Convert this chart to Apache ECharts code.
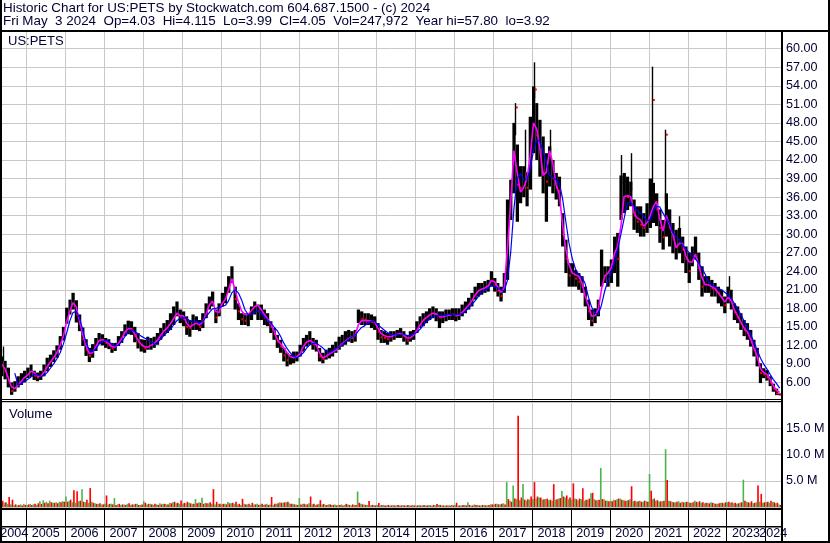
<!DOCTYPE html>
<html><head><meta charset="utf-8">
<script src="https://cdn.jsdelivr.net/npm/echarts@6/dist/echarts.min.js"></script>
<style>html,body{margin:0;padding:0;background:#fff}#c{width:830px;height:543px}</style>
</head><body><div id="c"></div>
<script>
// ---- data (monthly, May 2004 .. May 2024) ----
const firstYear = 2004, firstMonthIdx = 4; // May 2004
const axisStart = '2004-05-18', axisEnd = '2024-05-27';
const high = [
 10.2, 9.5, 8.4, 6.0, 6.2, 7.0, 7.5, 7.9,
 8.4, 8.9, 7.9, 7.6, 7.9, 8.9, 10.0, 10.5, 11.2, 12.0, 13.5, 15.0,
 18.1, 19.4, 20.5, 19.3, 17.0, 14.9, 13.0, 11.6, 12.2, 13.2, 14.0, 13.8,
 13.2, 13.0, 12.4, 12.4, 13.5, 14.3, 15.4, 16.0, 15.9, 15.0, 14.0, 13.0,
 12.9, 13.4, 13.2, 13.4, 14.0, 14.8, 15.6, 16.1, 17.2, 18.3, 19.1, 17.8,
 17.5, 16.7, 16.1, 17.0, 16.7, 16.1, 17.2, 18.8, 19.9, 20.7, 17.8, 18.8,
 20.5, 21.5, 23.2, 24.8, 21.5, 18.8, 17.2, 17.2, 17.2, 18.3, 19.1, 18.6,
 18.6, 17.8, 17.2, 15.9, 14.8, 13.7, 12.9, 11.6, 10.8, 10.5, 11.0, 11.0,
 12.1, 13.2, 13.7, 14.3, 13.2, 12.9, 11.6, 10.8, 11.3, 11.6, 12.1, 12.6,
 13.4, 13.7, 14.3, 14.5, 14.3, 14.5, 17.8, 17.5, 17.2, 17.2, 17.0, 16.7,
 15.6, 14.5, 14.3, 14.0, 14.3, 14.3, 14.5, 14.8, 14.3, 13.7, 14.3, 14.5,
 15.9, 16.7, 17.2, 17.5, 18.0, 18.3, 18.0, 17.5, 17.5, 17.8, 17.8, 18.0,
 18.0, 18.0, 18.6, 19.1, 19.7, 20.5, 21.5, 22.1, 22.1, 22.4, 22.6, 24.0,
 22.9, 22.1, 21.5, 23.7, 35.6, 38.8, 48.0, 44.5, 41.0, 41.0, 40.0, 49.0,
 53.9, 51.2, 48.5, 45.8, 43.1, 44.2, 42.0, 39.9, 39.3, 33.4, 29.1, 25.3,
 25.3, 24.2, 23.7, 23.2, 21.5, 19.4, 17.8, 18.0, 19.4, 27.5, 24.8, 24.8,
 25.9, 29.6, 30.2, 39.5, 39.9, 39.3, 38.5, 35.6, 34.5, 34.5, 33.4, 35.0,
 39.0, 38.3, 36.6, 34.0, 32.3, 36.6, 34.0, 31.8, 30.7, 31.0, 29.6, 28.0,
 27.0, 28.0, 29.6, 27.0, 24.8, 23.2, 23.2, 22.6, 22.1, 21.5, 21.0, 19.9,
 21.5, 21.0, 18.8, 18.3, 17.2, 16.1, 15.6, 14.5, 12.9, 11.6, 9.1, 8.3,
 8.0, 7.0, 5.8, 5.0, 4.2
];
const low = [
 7.0, 6.5, 5.2, 4.0, 4.5, 5.2, 5.6, 6.0,
 6.7, 6.9, 6.4, 6.2, 6.4, 7.0, 7.8, 8.5, 9.3, 10.0, 11.3, 12.8,
 15.5, 17.0, 17.8, 15.7, 14.3, 11.9, 10.3, 9.3, 10.0, 11.1, 12.2, 12.0,
 11.6, 11.4, 10.8, 11.1, 11.9, 12.4, 13.5, 13.8, 13.7, 12.5, 11.5, 11.0,
 10.8, 11.3, 11.3, 11.6, 12.1, 12.9, 13.5, 14.0, 14.5, 15.3, 16.7, 15.6,
 15.1, 13.7, 13.4, 14.5, 14.5, 14.3, 14.8, 16.4, 17.8, 18.3, 15.6, 16.7,
 18.3, 18.8, 20.5, 22.1, 17.8, 16.1, 15.3, 15.3, 15.1, 16.1, 17.0, 16.1,
 16.1, 15.3, 15.1, 14.0, 12.9, 11.6, 10.8, 9.4, 8.6, 8.9, 9.1, 9.4,
 10.2, 11.0, 11.8, 12.1, 11.3, 11.0, 9.4, 9.1, 9.7, 9.9, 10.2, 10.8,
 11.3, 11.8, 12.1, 12.6, 12.4, 12.6, 15.6, 15.3, 15.3, 15.3, 14.8, 14.5,
 12.9, 12.4, 12.4, 12.1, 12.6, 12.9, 13.2, 13.2, 12.6, 12.1, 12.6, 12.9,
 14.0, 14.8, 15.1, 15.6, 16.1, 16.4, 15.9, 14.8, 15.6, 15.9, 16.1, 16.1,
 15.9, 16.1, 16.7, 17.2, 17.8, 18.3, 19.4, 19.9, 20.2, 20.5, 20.7, 21.5,
 20.7, 19.9, 19.1, 20.5, 22.6, 32.3, 36.6, 32.0, 35.0, 36.0, 34.5, 37.2,
 43.1, 42.0, 39.3, 36.6, 32.0, 37.7, 36.6, 35.6, 34.5, 28.0, 23.7, 21.5,
 21.5, 21.5, 21.0, 20.5, 18.3, 16.1, 15.1, 15.6, 16.7, 21.5, 22.1, 21.5,
 22.1, 23.7, 21.5, 32.3, 33.4, 33.9, 34.5, 30.7, 30.2, 29.6, 29.6, 30.2,
 31.0, 31.8, 31.3, 28.6, 27.5, 29.6, 28.0, 26.9, 25.9, 26.9, 25.3, 23.7,
 22.1, 24.8, 25.9, 22.6, 19.9, 20.5, 20.5, 19.9, 19.9, 18.8, 18.3, 17.2,
 18.8, 17.8, 16.1, 15.6, 14.5, 13.5, 12.9, 11.8, 10.2, 8.6, 5.9, 6.7,
 6.3, 5.4, 4.5, 3.95, 3.92
];
const close = [
 8.5, 7.8, 6.3, 4.6, 5.2, 5.9, 6.6, 7.0,
 7.6, 8.2, 7.1, 6.8, 7.1, 8.0, 9.0, 9.6, 10.3, 11.0, 12.5, 14.0,
 17.0, 18.3, 19.3, 17.0, 15.5, 13.0, 11.3, 10.3, 11.0, 12.3, 13.2, 12.8,
 12.4, 12.0, 11.5, 11.8, 12.8, 13.5, 14.6, 14.9, 14.6, 13.5, 12.5, 12.0,
 11.5, 12.0, 12.2, 12.4, 13.0, 14.0, 14.5, 15.0, 15.8, 16.5, 17.5, 16.5,
 16.3, 15.0, 14.8, 15.5, 15.6, 15.0, 16.0, 17.5, 19.0, 19.5, 16.5, 17.6,
 19.5, 20.3, 22.0, 23.5, 19.5, 17.5, 16.2, 16.0, 16.5, 17.3, 18.0, 17.5,
 17.5, 16.5, 16.0, 15.0, 13.8, 12.6, 11.8, 10.4, 9.6, 9.6, 10.0, 10.2,
 11.2, 12.3, 12.8, 13.2, 12.2, 12.0, 10.2, 9.8, 10.4, 10.8, 11.0, 11.2,
 12.4, 12.8, 13.2, 13.6, 13.2, 13.5, 16.5, 16.3, 16.2, 16.4, 15.8, 15.6,
 14.2, 13.3, 13.2, 13.0, 13.5, 13.6, 13.9, 14.0, 13.5, 12.8, 13.4, 13.8,
 15.0, 15.8, 16.3, 16.8, 17.2, 17.5, 17.0, 16.5, 16.6, 16.8, 17.0, 17.2,
 16.8, 17.0, 17.6, 18.2, 18.8, 19.5, 20.5, 21.0, 21.2, 21.4, 21.8, 23.0,
 21.8, 20.8, 20.0, 22.0, 32.5, 36.0, 44.0, 38.0, 37.5, 39.0, 37.5, 45.0,
 48.5, 46.0, 43.0, 40.0, 38.5, 41.0, 39.0, 37.5, 37.0, 30.0, 26.0, 23.3,
 23.5, 22.8, 22.3, 21.5, 19.8, 17.5, 16.0, 16.5, 18.0, 24.5, 23.3, 23.5,
 24.5, 27.0, 26.0, 36.0, 36.5, 36.0, 37.0, 33.0, 32.0, 31.5, 31.0, 32.0,
 35.0, 36.0, 34.0, 31.0, 29.5, 33.0, 31.0, 29.5, 28.0, 29.0, 27.5, 26.0,
 24.0, 26.0, 28.0, 24.5, 21.5, 21.5, 21.8, 21.2, 21.0, 20.5, 19.8, 18.5,
 20.5, 19.5, 17.3, 16.5, 15.5, 14.5, 14.0, 13.0, 11.3, 10.0, 7.5, 7.3,
 6.8, 6.0, 5.0, 4.2, 4.05
];
const maFast = [
 9.0, 8.2, 6.8, 5.3, 5.0, 5.5, 6.2, 6.8,
 7.2, 7.8, 7.6, 7.0, 7.0, 7.6, 8.5, 9.3, 10.0, 10.8, 12.0, 13.5,
 15.8, 17.6, 18.9, 18.2, 16.0, 13.8, 12.0, 10.7, 10.8, 11.8, 12.8, 12.9,
 12.7, 12.3, 11.8, 11.7, 12.3, 13.1, 14.1, 14.7, 14.7, 13.9, 12.9, 12.2,
 11.8, 11.7, 12.0, 12.3, 12.8, 13.6, 14.3, 14.8, 15.5, 16.3, 17.2, 16.8,
 16.8, 15.6, 15.0, 15.3, 15.6, 15.3, 15.8, 17.0, 18.5, 19.2, 17.5, 17.3,
 18.8, 19.5, 21.0, 22.8, 21.0, 19.0, 17.6, 17.0, 17.0, 17.6, 18.3, 18.5,
 17.8, 17.0, 16.3, 15.5, 14.4, 13.0, 12.3, 11.6, 10.8, 10.2, 10.0, 10.2,
 10.6, 11.8, 12.5, 12.8, 12.5, 12.1, 10.8, 10.0, 10.2, 10.6, 10.9, 11.2,
 11.7, 12.3, 12.7, 13.1, 13.3, 13.6, 15.3, 16.0, 16.0, 16.0, 15.9, 15.8,
 14.8, 13.9, 13.6, 13.4, 13.4, 13.6, 13.8, 13.9, 13.7, 13.2, 13.2, 13.6,
 14.4, 15.3, 16.0, 16.5, 16.9, 17.2, 17.1, 16.7, 16.6, 16.8, 16.9, 17.0,
 17.0, 16.9, 17.3, 17.9, 18.5, 19.2, 20.1, 20.8, 21.1, 21.3, 21.6, 22.5,
 22.3, 21.4, 20.6, 21.2, 27.5, 35.0, 43.5, 40.0, 36.8, 37.5, 39.0, 42.5,
 48.0, 47.0, 44.0, 39.5, 40.0, 43.5, 41.5, 38.0, 36.5, 31.5, 27.5, 25.0,
 23.7, 23.4, 23.2, 22.1, 20.0, 18.5, 16.7, 16.8, 17.8, 21.0, 23.2, 23.7,
 24.5, 26.9, 28.0, 31.3, 36.1, 36.2, 36.1, 33.5, 32.6, 32.3, 31.3, 31.8,
 33.0, 34.5, 35.3, 32.5, 30.5, 33.0, 31.5, 30.0, 27.8, 28.5, 28.5, 26.5,
 25.5, 25.5, 26.8, 25.0, 23.0, 21.8, 21.8, 21.5, 21.2, 20.5, 19.8, 19.0,
 19.8, 19.2, 17.8, 16.8, 15.8, 14.8, 14.2, 13.0, 11.6, 10.3, 8.3, 7.6,
 7.3, 6.5, 5.5, 4.7, 4.4
];
const maSlow = [
 null, null, null, null, 7.5, 5.6, 5.8, 6.2,
 6.5, 6.9, 7.3, 7.2, 7.0, 7.1, 7.6, 8.3, 9.0, 9.8, 10.8, 12.2,
 14.0, 16.0, 17.3, 17.5, 16.5, 14.5, 12.5, 11.3, 11.0, 11.4, 12.2, 12.6,
 12.8, 12.6, 12.2, 11.9, 12.0, 12.6, 13.4, 14.1, 14.5, 14.3, 13.9, 13.5,
 13.2, 12.9, 12.6, 12.2, 12.4, 13.0, 13.6, 14.1, 14.6, 15.3, 16.0, 16.4,
 16.5, 16.4, 16.0, 15.8, 15.9, 15.6, 15.9, 16.6, 17.3, 17.9, 18.0, 18.1,
 18.3, 18.5, 19.2, 20.5, 21.0, 20.5, 19.4, 17.8, 17.0, 17.0, 17.3, 17.7,
 17.2, 16.6, 16.1, 15.6, 15.0, 14.4, 13.5, 12.4, 11.5, 10.8, 10.3, 10.0,
 10.3, 10.8, 11.5, 12.1, 12.3, 12.4, 12.0, 11.6, 11.1, 10.8, 11.1, 11.5,
 11.7, 12.1, 12.6, 13.0, 13.3, 13.6, 14.3, 14.9, 15.2, 15.6, 15.9, 15.8,
 15.3, 14.9, 14.5, 14.1, 13.8, 13.7, 13.7, 13.8, 13.8, 13.6, 13.6, 13.8,
 14.1, 14.6, 15.2, 15.8, 16.2, 16.6, 16.8, 16.8, 16.8, 16.9, 17.0, 17.0,
 17.0, 17.0, 17.1, 17.5, 18.0, 18.6, 19.2, 19.9, 20.5, 20.9, 21.2, 21.7,
 21.5, 21.3, 21.0, 20.8, 22.5, 27.0, 34.0, 39.0, 39.8, 38.8, 38.8, 40.5,
 43.5, 45.3, 45.0, 43.5, 41.5, 39.5, 39.2, 38.8, 38.2, 35.8, 32.0, 28.5,
 26.0, 24.3, 23.5, 23.0, 22.0, 19.8, 18.2, 17.2, 17.0, 18.5, 20.8, 22.5,
 23.8, 25.5, 27.5, 30.0, 32.5, 35.0, 35.2, 34.5, 33.8, 33.4, 32.9, 32.2,
 32.3, 33.9, 34.5, 34.4, 33.4, 32.5, 31.8, 30.2, 29.6, 29.1, 28.2, 27.6,
 27.0, 26.4, 26.0, 25.3, 24.5, 23.5, 22.3, 21.8, 21.5, 21.2, 21.0, 20.6,
 20.2, 19.6, 18.8, 18.0, 17.0, 16.0, 15.0, 13.8, 12.6, 11.3, 10.0, 9.0,
 8.2, 7.3, 6.5, 5.8, 5.1
];
// thin intraday spikes: [date, top, bottom, red close mark or null]
const wicks = [
 ['2004-05-25', 11.8, 9.5, null], ['2017-07-30', 51.2, 46.0, 50.5], ['2017-10-28', 46.9, 40.0, null],
 ['2018-01-18', 57.8, 52.0, 53.4], ['2018-06-21', 46.9, 43.0, null], ['2020-04-17', 42.8, 38.0, null],
 ['2020-07-14', 43.1, 37.0, null], ['2021-02-02', 57.1, 38.0, 51.7], ['2021-05-31', 46.9, 35.0, 46.1],
 ['2021-10-15', 32.9, 30.0, null], ['2023-01-28', 23.2, 21.0, null]
];
// volume in millions: up-day (green) and down-day (red) peaks per month
const volUp = [
 3.2, 0.8, 0.6, 0.5, 0.4, 0.3, 0.5, 0.6,
 0.4, 0.6, 0.5, 0.4, 1.1, 1.3, 1.0, 1.2, 0.8, 0.9, 1.0, 1.1,
 2.0, 1.2, 0.9, 0.8, 1.1, 3.4, 0.9, 0.8, 1.0, 0.7, 0.6, 0.5,
 0.6, 0.5, 0.6, 1.7, 0.5, 0.4, 0.5, 0.6, 0.4, 0.5, 0.6, 0.4,
 1.1, 0.5, 0.6, 0.4, 0.5, 0.7, 0.6, 0.5, 0.8, 0.9, 0.7, 0.6,
 0.6, 0.7, 0.8, 0.6, 1.5, 0.9, 1.75, 0.8, 0.7, 0.6, 0.5, 0.6,
 0.5, 0.6, 0.95, 0.7, 0.6, 0.5, 0.4, 0.6, 0.5, 0.4, 0.5, 0.6,
 0.5, 0.4, 0.6, 0.5, 0.4, 0.6, 0.9, 0.8, 0.9, 0.7, 0.6, 0.5,
 1.7, 0.6, 0.5, 0.7, 0.5, 0.4, 0.6, 0.5, 0.4, 0.5, 0.4, 0.5,
 0.4, 0.5, 0.4, 0.5, 0.3, 0.4, 2.95, 0.6, 0.5, 0.4, 0.3, 0.4,
 0.4, 0.3, 0.4, 0.3, 0.3, 0.4, 0.3, 0.3, 0.4, 0.3, 0.3, 0.4,
 0.3, 0.4, 0.3, 0.3, 0.4, 0.3, 0.3, 0.4, 0.3, 0.3, 0.3, 0.4,
 0.4, 0.3, 0.3, 0.4, 0.9, 0.3, 0.5, 0.4, 0.3, 0.4, 0.3, 0.5,
 0.5, 0.6, 0.5, 0.7, 4.75, 1.2, 4.1, 1.5, 1.3, 4.4, 1.2, 1.4,
 1.5, 1.6, 1.8, 1.4, 1.5, 1.3, 1.2, 1.4, 1.6, 3.05, 1.8, 1.5,
 1.4, 1.6, 1.3, 1.5, 1.2, 1.4, 2.6, 1.5, 1.3, 7.45, 1.5, 1.2,
 1.2, 1.4, 1.5, 1.6, 1.3, 1.2, 1.5, 1.1, 1.0, 1.2, 1.0, 1.1,
 6.3, 1.5, 1.2, 1.0, 1.1, 11.0, 1.2, 1.0, 0.9, 1.1, 1.0, 0.9,
 0.9, 0.8, 1.2, 0.9, 0.8, 0.7, 0.8, 0.9, 0.7, 0.6, 0.8, 0.7,
 0.9, 0.8, 0.7, 0.6, 0.8, 5.2, 1.0, 0.8, 0.7, 0.9, 1.0, 0.8,
 0.9, 0.8, 1.0, 0.7, 0.5
];
const volDown = [
 1.2, 0.9, 1.9, 1.4, 0.5, 0.4, 0.3, 0.4,
 0.5, 0.4, 0.6, 0.7, 0.6, 0.8, 0.7, 0.9, 0.8, 0.7, 0.9, 1.0,
 1.0, 1.4, 3.2, 3.0, 1.2, 1.0, 1.4, 3.6, 0.8, 0.6, 0.7, 0.5,
 2.2, 0.6, 0.5, 0.4, 0.6, 0.5, 0.4, 0.7, 0.5, 0.6, 0.4, 0.5,
 0.8, 0.6, 0.5, 0.6, 0.4, 0.5, 0.6, 0.5, 0.7, 1.0, 0.8, 1.25,
 0.8, 1.0, 0.7, 0.6, 0.7, 0.8, 0.6, 0.7, 0.9, 3.4, 1.0, 0.6,
 0.6, 0.5, 0.7, 0.8, 1.0, 0.6, 1.55, 0.5, 0.6, 0.8, 0.5, 0.4,
 0.6, 0.5, 0.4, 1.9, 0.6, 0.7, 0.8, 0.9, 1.0, 0.6, 0.5, 0.4,
 0.5, 0.6, 0.5, 2.0, 0.6, 0.5, 1.3, 0.6, 0.4, 0.5, 0.4, 0.3,
 0.4, 0.3, 0.6, 0.4, 0.5, 0.4, 0.8, 0.5, 0.4, 1.15, 0.4, 0.3,
 0.75, 0.4, 0.3, 0.4, 0.3, 0.3, 0.4, 0.3, 0.3, 0.4, 0.3, 0.3,
 0.3, 0.3, 0.4, 0.3, 0.3, 0.4, 0.55, 0.4, 0.3, 0.3, 0.3, 0.3,
 0.8, 0.3, 0.4, 0.3, 0.4, 0.3, 0.4, 0.3, 0.4, 0.3, 0.4, 0.5,
 0.6, 0.5, 0.6, 0.5, 1.5, 1.0, 1.6, 17.4, 1.8, 1.4, 1.5, 2.0,
 4.75, 2.0, 1.8, 1.5, 1.6, 1.4, 4.35, 1.5, 1.7, 2.0, 2.2, 1.8,
 4.5, 1.5, 1.6, 3.55, 1.4, 1.6, 2.7, 1.3, 1.4, 1.5, 1.2, 1.1,
 1.1, 1.3, 1.6, 1.4, 1.2, 1.3, 3.95, 1.2, 1.1, 1.0, 1.2, 1.0,
 3.1, 1.6, 1.3, 1.1, 1.2, 5.15, 1.1, 0.9, 1.0, 0.8, 0.9, 1.0,
 0.8, 0.9, 1.0, 1.1, 0.9, 0.8, 0.7, 0.8, 0.6, 0.7, 0.8, 0.9,
 1.0, 0.9, 0.8, 0.7, 0.9, 1.2, 0.9, 1.1, 0.8, 4.1, 2.5, 0.9,
 1.0, 1.2, 0.9, 0.8, 0.4
];
const yearTicks = [2005,2006,2007,2008,2009,2010,2011,2012,2013,2014,2015,2016,2017,2018,2019,2020,2021,2022,2023,2024];
const yearLabels = ['2004','2005','2006','2007','2008','2009','2010','2011','2012','2013','2014','2015','2016','2017','2018','2019','2020','2021','2022','2023','2024'];
const volumeTicks = [5, 10, 15];

// ---- build ----
const T0 = new Date(axisStart + 'T00:00:00Z').getTime();
const T1 = new Date(axisEnd + 'T00:00:00Z').getTime();
const months = high.map((_, i) => {
  const y = firstYear + Math.floor((firstMonthIdx + i) / 12), m = (firstMonthIdx + i) % 12;
  return [Date.UTC(y, m, 1), Date.UTC(y, m + 1, 1), Date.UTC(y, m, 15)];
});
const priceRows = months.map((mo, i) => [mo[0], mo[1], low[i], high[i], close[i], (i > 0 && close[i] < close[i - 1]) ? 1 : 0]);
const volRows = months.map((mo, i) => [mo[0], mo[1], volUp[i], volDown[i]]);
const boundaries = [T0].concat(yearTicks.map(y => Date.UTC(y, 0, 1))).concat([T1]);
const labelRows = yearLabels.map((t, i) => [(boundaries[i] + boundaries[i + 1]) / 2, 7, t]);
const FONT = '"Liberation Sans", Arial, sans-serif';
const TXT = '#000033';
const GRIDC = '#c8c8c8';

function yearLines(idx, yv, color, top, bottom) {
  return {
    type: 'custom', xAxisIndex: idx, yAxisIndex: idx, silent: true, z: 1,
    data: yearTicks.map(y => [Date.UTC(y, 0, 1), yv]),
    renderItem: (params, api) => {
      const p = api.coord([api.value(0), api.value(1)]);
      const cs = params.coordSys;
      const x = Math.round(p[0]) + 0.5;
      const y1 = top != null ? top : cs.y, y2 = bottom != null ? bottom : cs.y + cs.height;
      return { type: 'line', shape: { x1: x, y1: y1, x2: x, y2: y2 }, style: { stroke: color, lineWidth: 1 } };
    }
  };
}
const xAx = i => ({ type: 'time', gridIndex: i, min: T0, max: T1, show: false, splitLine: { show: false } });

const chart = echarts.init(document.getElementById('c'), null, { renderer: 'canvas' });
chart.setOption({
  animation: false,
  backgroundColor: '#fff',
  grid: [
    { left: 2, top: 31, width: 779, height: 370 },
    { left: 2, top: 402, width: 779, height: 105 },
    { left: 2, top: 509, width: 779, height: 32 }
  ],
  xAxis: [xAx(0), xAx(1), xAx(2)],
  yAxis: [
    { type: 'value', gridIndex: 0, position: 'right', min: 3, max: 62.87, interval: 3,
      axisLine: { show: false }, axisTick: { show: false },
      splitLine: { show: true, lineStyle: { color: GRIDC, width: 1 } },
      axisLabel: { margin: 5, color: TXT, fontFamily: FONT, fontSize: 12.6,
        formatter: v => (v >= 6 && v <= 60.001) ? v.toFixed(2) : '' } },
    { type: 'value', gridIndex: 1, position: 'right', min: 0, max: 20, interval: 5,
      axisLine: { show: false }, axisTick: { show: false },
      splitLine: { show: true, lineStyle: { color: GRIDC, width: 1 } },
      axisLabel: { margin: 5, color: TXT, fontFamily: FONT, fontSize: 12.6,
        formatter: v => volumeTicks.indexOf(v) >= 0 ? v.toFixed(1) + ' M' : '' } },
    { type: 'value', gridIndex: 2, min: 0, max: 32, show: false, splitLine: { show: false } }
  ],
  series: [
    yearLines(0, 30, GRIDC),
    yearLines(1, 10, GRIDC),
    yearLines(2, 16, '#000'),
    { type: 'custom', xAxisIndex: 0, yAxisIndex: 0, clip: true, z: 3, silent: true,
      data: priceRows, encode: { x: [0, 1], y: [2, 3] },
      renderItem: (params, api) => {
        const a = api.coord([api.value(0), api.value(2)]);
        const b = api.coord([api.value(1), api.value(3)]);
        const c = api.coord([api.value(0), api.value(4)]);
        const w = Math.max(1, b[0] - a[0]);
        const ch = [{ type: 'rect', shape: { x: a[0], y: b[1], width: w, height: Math.max(1, a[1] - b[1]) }, style: { fill: '#000' } }];
        if (api.value(5)) ch.push({ type: 'rect', shape: { x: a[0] + w - 2, y: c[1] - 1, width: 2, height: 2 }, style: { fill: '#ff0000' } });
        return { type: 'group', children: ch };
      } },
    { type: 'custom', xAxisIndex: 0, yAxisIndex: 0, clip: true, z: 3, silent: true,
      data: wicks.map(w => [new Date(w[0] + 'T00:00:00Z').getTime(), w[1], w[2], w[3] == null ? '-' : w[3]]),
      renderItem: (params, api) => {
        const p = api.coord([api.value(0), api.value(1)]);
        const q = api.coord([api.value(0), api.value(2)]);
        const x = Math.round(p[0]) + 0.5;
        const ch = [{ type: 'line', shape: { x1: x, y1: p[1], x2: x, y2: q[1] }, style: { stroke: '#000', lineWidth: 1.4 } }];
        const r = wicks[params.dataIndex][3];
        if (r != null) {
          const rp = api.coord([api.value(0), r]);
          ch.push({ type: 'rect', shape: { x: x + 0.3, y: rp[1] - 1, width: 2, height: 2 }, style: { fill: '#ff0000' } });
        }
        return { type: 'group', children: ch };
      } },
    { type: 'line', xAxisIndex: 0, yAxisIndex: 0, z: 4, silent: true, symbol: 'none',
      data: months.map((mo, i) => [mo[2], maFast[i] == null ? '-' : maFast[i]]),
      lineStyle: { color: '#ff00ff', width: 1.6 } },
    { type: 'line', xAxisIndex: 0, yAxisIndex: 0, z: 5, silent: true, symbol: 'none',
      data: months.map((mo, i) => [mo[2], maSlow[i] == null ? '-' : maSlow[i]]),
      lineStyle: { color: '#0000ff', width: 1.2 } },
    { type: 'custom', xAxisIndex: 1, yAxisIndex: 1, clip: true, z: 3, silent: true,
      data: volRows, encode: { x: [0, 1], y: [2, 3] },
      renderItem: (params, api) => {
        const base = api.coord([api.value(0), 0]);
        const end = api.coord([api.value(1), 0]);
        const up = api.coord([api.value(0), api.value(2)]);
        const dn = api.coord([api.value(0), api.value(3)]);
        const w = (end[0] - base[0]) / 2;
        return { type: 'group', children: [
          { type: 'rect', shape: { x: base[0], y: up[1], width: w, height: base[1] - up[1] }, style: { fill: '#4db34d' } },
          { type: 'rect', shape: { x: base[0] + w, y: dn[1], width: w, height: base[1] - dn[1] }, style: { fill: '#ff0000' } }
        ] };
      } },
    { type: 'custom', xAxisIndex: 2, yAxisIndex: 2, z: 6, silent: true,
      data: labelRows,
      renderItem: (params, api) => {
        const p = api.coord([api.value(0), api.value(1)]);
        return { type: 'text', x: p[0], y: p[1], style: { text: labelRows[params.dataIndex][2], textAlign: 'center', textVerticalAlign: 'middle', font: '12.6px ' + FONT, fill: TXT } };
      } }
  ],
  graphic: [
    { type: 'text', x: 3, y: 8, z: 100, style: { text: 'Historic Chart for US:PETS by Stockwatch.com 604.687.1500 - (c) 2024', font: '13.4px ' + FONT, fill: TXT, textVerticalAlign: 'middle' } },
    { type: 'text', x: 3, y: 21.5, z: 100, style: { text: 'Fri May  3 2024  Op=4.03  Hi=4.115  Lo=3.99  Cl=4.05  Vol=247,972  Year hi=57.80  lo=3.92', font: '13.4px ' + FONT, fill: TXT, textVerticalAlign: 'middle' } },
    { type: 'text', x: 8, y: 41, z: 100, style: { text: 'US:PETS', font: '13px ' + FONT, fill: TXT, textVerticalAlign: 'middle' } },
    { type: 'text', x: 9, y: 414, z: 100, style: { text: 'Volume', font: '13px ' + FONT, fill: TXT, textVerticalAlign: 'middle' } },
    { type: 'rect', z: 100, shape: { x: 0, y: 30, width: 830, height: 2 }, style: { fill: '#000' } },
    { type: 'rect', z: 100, shape: { x: 0, y: 0, width: 2, height: 543 }, style: { fill: '#000' } },
    { type: 'rect', z: 100, shape: { x: 828, y: 0, width: 2, height: 543 }, style: { fill: '#000' } },
    { type: 'rect', z: 100, shape: { x: 781, y: 30, width: 2, height: 513 }, style: { fill: '#000' } },
    { type: 'rect', z: 100, shape: { x: 0, y: 399, width: 783, height: 1 }, style: { fill: '#000' } },
    { type: 'rect', z: 100, shape: { x: 0, y: 401, width: 783, height: 1 }, style: { fill: '#000' } },
    { type: 'rect', z: 100, shape: { x: 0, y: 508, width: 783, height: 2 }, style: { fill: '#000' } },
    { type: 'rect', z: 100, shape: { x: 0, y: 526, width: 783, height: 1.5 }, style: { fill: '#000' } },
    { type: 'rect', z: 100, shape: { x: 0, y: 541, width: 830, height: 2 }, style: { fill: '#000' } }
  ]
});
</script></body></html>
